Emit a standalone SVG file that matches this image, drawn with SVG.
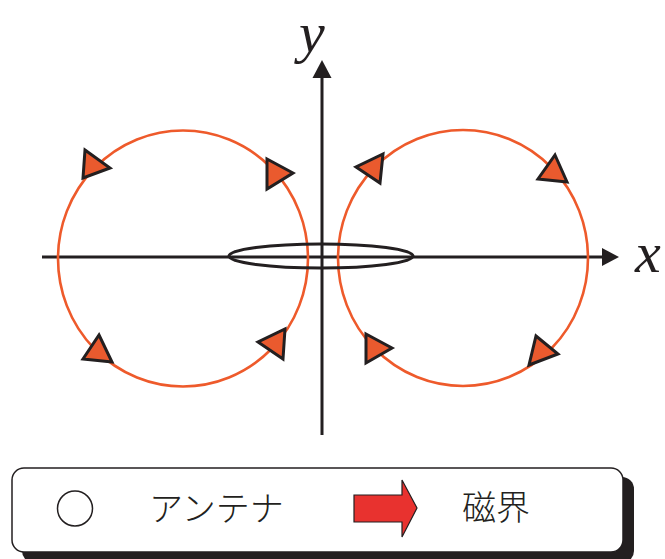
<svg xmlns="http://www.w3.org/2000/svg" width="665" height="559" viewBox="0 0 665 559">
<style>
.field{fill:none;stroke:#ee5a2b;stroke-width:2.6}
.axis{stroke:#231f20;stroke-width:3;fill:none}
.ah{fill:#231f20}
.tri{fill:#ea5a2e;stroke:#231f20;stroke-width:3;stroke-linejoin:miter}
.lab{font-family:"Liberation Serif",serif;font-style:italic;font-size:58px;fill:#231f20}
.jp{font-family:"Noto Sans CJK JP",sans-serif;font-weight:300;font-size:34px;fill:#231f20}
</style>
<rect width="665" height="559" fill="#ffffff"/>
<g id="axes">
<line class="axis" x1="42" y1="257" x2="604" y2="257"/>
<polygon class="ah" points="602,248 619,257 602,266"/>
<line class="axis" x1="322" y1="435" x2="322" y2="75"/>
<polygon class="ah" points="312.5,78 322,60 331.5,78"/>
<text class="lab" x="299" y="52">y</text>
<text class="lab" x="635" y="272">x</text>
</g>
<g id="left-field">
<ellipse class="field" cx="183" cy="258.5" rx="125" ry="128"/>
<polygon class="tri" points="85,150 110,168 83,178"/>
<polygon class="tri" points="267,159 293,173 267,189"/>
<polygon class="tri" points="99,335 112,362 83,359"/>
<polygon class="tri" points="285,329 283,359 258,342"/>
</g>
<g id="right-field">
<ellipse class="field" cx="463" cy="258" rx="125" ry="128"/>
<polygon class="tri" points="383,154 380,183 356,167"/>
<polygon class="tri" points="555,155 567,182 538,179"/>
<polygon class="tri" points="366,334 392,348 366,363"/>
<polygon class="tri" points="536,336 558,354 529,365"/>
</g>
<g id="antenna">
<ellipse cx="321" cy="256" rx="92" ry="12" fill="none" stroke="#231f20" stroke-width="3"/>
</g>
<g id="legend">
<rect x="22" y="477" width="612" height="86" rx="12" fill="#231f20"/>
<rect x="12" y="468" width="611" height="84" rx="12" fill="#ffffff" stroke="#231f20" stroke-width="1.5"/>
<circle cx="75" cy="508.5" r="17.5" fill="none" stroke="#231f20" stroke-width="1.5"/>
<text class="jp" x="149" y="521">アンテナ</text>
<polygon points="354,495 402,495 402,480 417,508 402,537 402,522 354,522" fill="#e8322f" stroke="#231f20" stroke-width="1.2"/>
<text class="jp" x="462" y="520">磁界</text>
</g>
</svg>
